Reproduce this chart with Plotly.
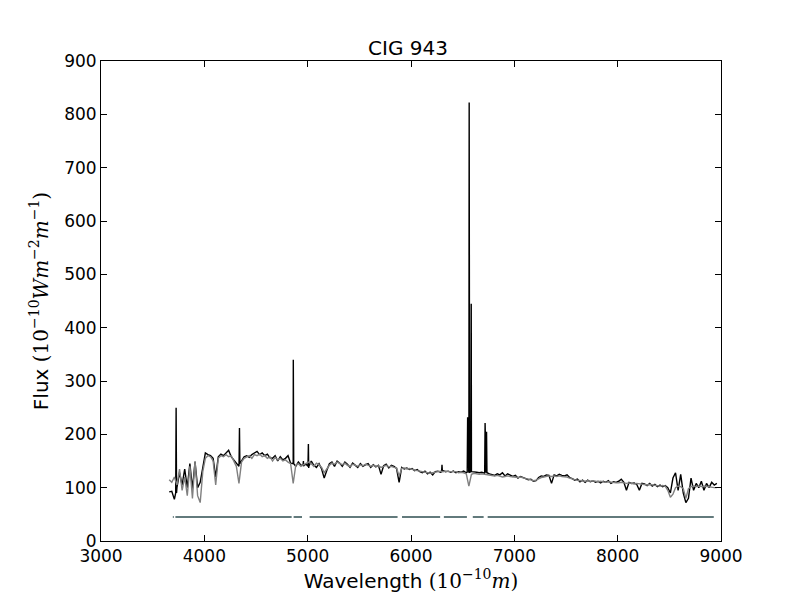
import numpy as np
import plotly.graph_objects as go

# continuum sampling: every 25 Angstrom from 3660
start_wave = 3660
step_wave = 25

obs_flux = [
    92, 93, 78, 100, 128, 105, 135, 100,
    145, 98, 148, 100, 110, 140, 165, 162,
    160, 155, 120, 158, 163, 160, 165, 170,
    158, 152, 145, 140, 150, 158, 160, 157,
    162, 165, 168, 162, 165, 160, 163, 156,
    155, 160, 150, 158, 152, 155, 160, 146,
    145, 140, 148, 142, 140, 144, 137, 150,
    142, 138, 145, 135, 118, 132, 145, 148,
    140, 150, 146, 140, 148, 144, 138, 146,
    141, 138, 145, 140, 143, 145, 138, 143,
    139, 142, 125, 141, 144, 137, 142, 140,
    136, 110, 138, 135, 137, 134, 136, 132,
    134, 130, 128, 131, 126, 129, 124, 130,
    131, 129, 132, 130, 131, 129, 131, 128,
    130, 129, 131, 128, 128, 130, 130, 129,
    128, 129, 127, 128, 126, 125, 123, 126,
    124, 128, 122, 126, 124, 121, 123, 118,
    121, 119, 118, 115, 116, 112, 113, 119,
    122, 121, 124, 123, 108, 124, 122, 125,
    123, 122, 124, 119, 117, 114, 116, 111,
    114, 110, 114, 111, 113, 110, 112, 109,
    112, 110, 113, 108, 111, 110, 112, 116,
    110, 95, 110, 108, 109, 106, 95, 108,
    107, 104, 108, 103, 106, 102, 105, 102,
    104, 100, 90, 118, 128, 95, 125, 90,
    72, 80, 118, 95, 108, 100, 112, 95,
    108, 100, 110, 105, 108,
]

model_flux = [
    115, 110, 120, 105, 135, 95, 120, 85,
    140, 80, 150, 85, 72, 130, 155, 160,
    158, 150, 105, 155, 160, 158, 162, 158,
    160, 150, 140, 108, 148, 155, 158, 160,
    155, 162, 160, 163, 158, 160, 155, 158,
    150, 157, 152, 155, 150, 152, 148, 145,
    108, 142, 145, 140, 143, 146, 148, 145,
    140, 146, 143, 138, 128, 135, 142, 146,
    144, 148, 145, 143, 146, 142, 140, 144,
    142, 140, 143, 141, 144, 142, 140, 142,
    140, 141, 138, 140, 142, 139, 140, 138,
    137, 122, 136, 137, 135, 136, 134, 133,
    132, 131, 130, 129, 128, 127, 128, 129,
    130, 131, 130, 131, 130, 130, 129, 130,
    128, 129, 128, 126, 103, 125, 127, 126,
    125, 126, 125, 124, 124, 123, 122, 123,
    121, 120, 121, 122, 121, 120, 120, 119,
    120, 118, 117, 116, 115, 113, 114, 117,
    119, 120, 121, 122, 121, 122, 121, 122,
    121, 121, 120, 118, 116, 115, 114, 113,
    113, 112, 113, 112, 113, 112, 111, 112,
    111, 110, 111, 110, 110, 109, 109, 110,
    109, 108, 109, 108, 107, 108, 107, 106,
    106, 105, 106, 105, 104, 104, 103, 104,
    103, 95, 82, 88, 100, 103, 102, 98,
    80, 98, 102, 103, 102, 103, 102, 103,
    102, 101, 101, 100, 100,
]

# emission lines in the observed spectrum
em_wave = [3727, 4340, 4861, 4959, 5007, 6300, 6548, 6563, 6583, 6717, 6731]
em_peak = [250, 212, 340, 150, 182, 143, 232, 822, 445, 221, 205]
em_base = [90, 145, 145, 142, 140, 130, 129, 129, 130, 128, 128]

# masked-pixel flag line
mask_level = 45
mask_start = [3695, 3720, 4864, 5019, 5913, 6318, 6598, 6742]
mask_end = [3705, 4845, 4945, 5870, 6282, 6541, 6703, 8930]

obs_wave = start_wave + step_wave * np.arange(len(obs_flux))
model_wave = start_wave + step_wave * np.arange(len(model_flux))

# merge the narrow emission spikes into the observed continuum
pts = list(zip(obs_wave, obs_flux))
for w, p, b in zip(em_wave, em_peak, em_base):
    pts += [(w - 4, b), (w, p), (w + 4, b)]
pts.sort(key=lambda t: t[0])
ox = [t[0] for t in pts]
oy = [t[1] for t in pts]

mx, my = [], []
for s, e in zip(mask_start, mask_end):
    mx += [s, e, None]
    my += [mask_level, mask_level, None]

fig = go.Figure()
fig.add_trace(go.Scatter(x=ox, y=oy, mode="lines",
                         line=dict(color="black", width=1.4)))
fig.add_trace(go.Scatter(x=model_wave, y=model_flux, mode="lines",
                         line=dict(color="#808080", width=1.4)))
fig.add_trace(go.Scatter(x=mx, y=my, mode="lines",
                         line=dict(color="#627a7c", width=2)))

serif = "font-family:'DejaVu Serif'"
fig.update_layout(
    width=800, height=600,
    margin=dict(l=93, r=87, t=53, b=67),
    plot_bgcolor="white", paper_bgcolor="white",
    showlegend=False,
    font=dict(family="DejaVu Sans", size=17, color="black"),
    title=dict(text="CIG 943", x=0.5, xanchor="center", y=0.933,
               yanchor="middle", font=dict(size=20)),
)
fig.update_xaxes(
    range=[3000, 9000], dtick=1000, showgrid=False, zeroline=False,
    showline=True, linecolor="black", linewidth=1, mirror="allticks",
    ticks="inside", ticklen=6, tickcolor="black",
    title=dict(text="Wavelength <span style=\"" + serif + "\">(10<sup>−10</sup><i>m</i>)</span>",
               standoff=1),
)
fig.update_yaxes(
    range=[0, 900], dtick=100, showgrid=False, zeroline=False,
    showline=True, linecolor="black", linewidth=1, mirror="allticks",
    ticks="inside", ticklen=6, tickcolor="black",
    title=dict(text="Flux <span style=\"" + serif + "\">(10<sup>−10</sup><i>Wm</i><sup>−2</sup><i>m</i><sup>−1</sup>)</span>",
               standoff=10),
)

fig.write_html("out.html")
